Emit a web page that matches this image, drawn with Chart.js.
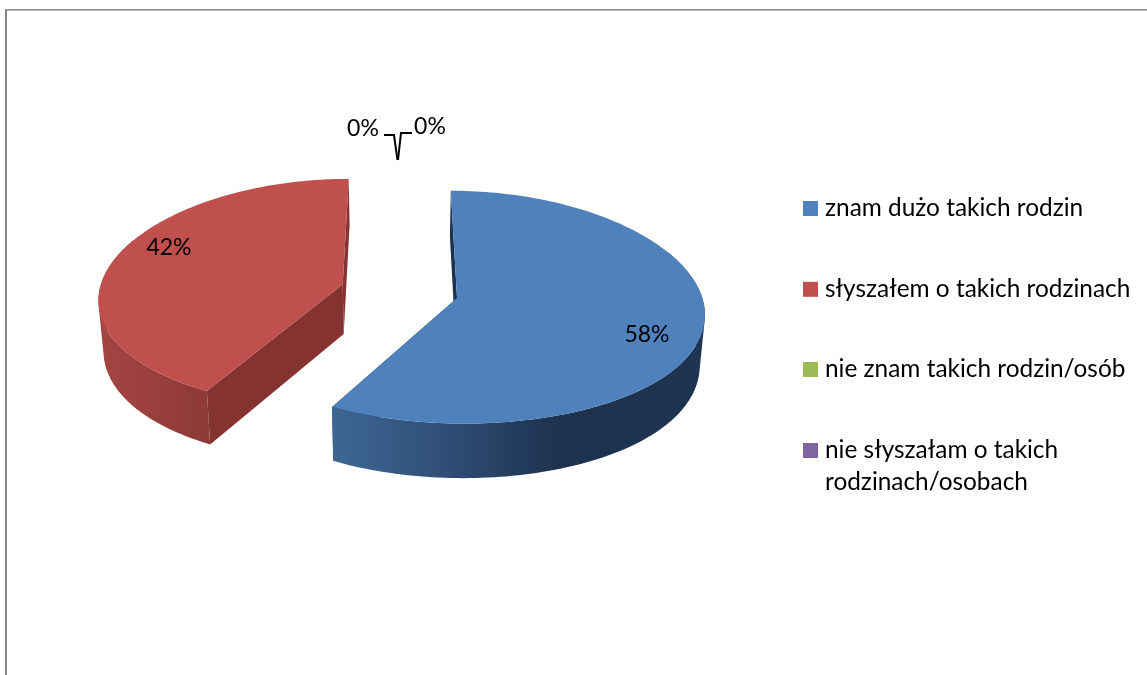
<!DOCTYPE html>
<html>
<head>
<meta charset="utf-8">
<script src="https://cdn.jsdelivr.net/npm/chart.js@4"></script>
<style>
  html, body { margin: 0; padding: 0; background: #fff; overflow: hidden; }
  canvas { display: block; }
</style>
</head>
<body>
<canvas id="pie3d" width="1147" height="675"></canvas>
<script>
const categories = [
    "znam dużo takich rodzin",
    "słyszałem o takich rodzinach",
    "nie znam takich rodzin/osób",
    ["nie słyszałam o takich", "rodzinach/osobach"]
];
const values = [58, 42, 0, 0];
const colors = ["#4f81bd", "#c0504d", "#9bbb59", "#8064a2"];
const explode = [59.5, 58.5, 0, 0];

// wall colours, gradient stops are [x, colour]
const wallColors = ["#1d324e", "#843331", "#9bbb59", "#8064a2"];
const rimStops = [
    [[330, "#3e6795"], [450, "#2e4d74"], [560, "#1d324e"], [703, "#1f3450"]],
    [[97, "#a54542"], [205, "#8e3a37"]],
    [], []
];

// where the percent labels sit, and their leader lines
const labelSpots = [[647, 335], [169, 248], [363, 129], [430, 127]];
const leaders = [
    [[384, 135], [394, 135], [397.5, 160]],
    [[412, 133], [401, 133], [398, 160]]
];

// legend rows, centre y of each box
const legendRows = [208.5, 289.3, 369.5, 450.5];

const FONT = "Lato, sans-serif";
const DEPTH = 50;
const HORIZON = 1460;     // distance from pie centre up to the vanishing line
const TILT = 0.078 / 242; // perspective strength per px of depth
const SQUEEZE = 0.983;    // underside of the pie is a bit narrower

function project(cx, cy, u, v) {
    const w = 1 - v * TILT;
    return { x: cx + u / Math.pow(w, 1.5), y: cy - HORIZON + HORIZON / w, w: w };
}

function lower(cx, p) {
    return { x: cx + (p.x - cx) * SQUEEZE, y: p.y + DEPTH / p.w };
}

function tracePath(ctx, pts) {
    pts.forEach((p, i) => i ? ctx.lineTo(p.x, p.y) : ctx.moveTo(p.x, p.y));
    ctx.closePath();
}

// all quads must turn the same way or they cancel out where they overlap
function sameTurn(pts) {
    let area = 0;
    pts.forEach((p, i) => {
        const q = pts[(i + 1) % pts.length];
        area += p.x * q.y - q.x * p.y;
    });
    return area < 0 ? pts.slice().reverse() : pts;
}

function drawSlice(ctx, arc, i) {
    const cx = arc.x, cy = arc.y, r = arc.outerRadius;
    const mid = (arc.startAngle + arc.endAngle) / 2;
    const ox = arc.options.offset * Math.cos(mid);
    const oy = arc.options.offset * Math.sin(mid);
    const steps = 160;
    const angleAt = s => arc.startAngle + (arc.endAngle - arc.startAngle) * s / steps;
    const rimAt = a => project(cx, cy, ox + r * Math.cos(a), oy + r * Math.sin(a));
    const apex = project(cx, cy, ox, oy);

    const rim = [];
    for (let s = 0; s <= steps; s++) {
        rim.push(rimAt(angleAt(s)));
    }

    // cut walls first
    ctx.fillStyle = wallColors[i];
    [rim[0], rim[steps]].forEach(edge => {
        ctx.beginPath();
        tracePath(ctx, [apex, edge, lower(cx, edge), lower(cx, apex)]);
        ctx.fill();
    });

    // outer wall, one path of small quads so the outline stays clean
    const stops = rimStops[i];
    if (stops.length) {
        const x0 = stops[0][0], x1 = stops[stops.length - 1][0];
        const grad = ctx.createLinearGradient(x0, 0, x1, 0);
        stops.forEach(st => grad.addColorStop((st[0] - x0) / (x1 - x0), st[1]));
        ctx.fillStyle = grad;
        ctx.beginPath();
        for (let s = 0; s < steps; s++) {
            if (Math.sin(angleAt(s)) > -0.4) {
                tracePath(ctx, sameTurn([rim[s], rim[s + 1], lower(cx, rim[s + 1]), lower(cx, rim[s])]));
            }
        }
        ctx.fill();
    }

    // top face
    ctx.fillStyle = colors[i];
    ctx.beginPath();
    tracePath(ctx, [apex].concat(rim));
    ctx.fill();
}

function drawLegend(ctx) {
    ctx.textAlign = "left";
    ctx.textBaseline = "middle";
    ctx.font = "24.4px " + FONT;
    categories.forEach((label, i) => {
        ctx.fillStyle = colors[i];
        ctx.fillRect(803, legendRows[i] - 7.5, 15, 15);
        ctx.fillStyle = "#000";
        [].concat(label).forEach((line, k) => {
            ctx.fillText(line, 825, legendRows[i] + k * 32);
        });
    });
}

const pie3d = {
    id: "pie3d",
    beforeDraw(chart) {
        const ctx = chart.ctx;
        ctx.save();
        ctx.fillStyle = "#fff";
        ctx.fillRect(0, 0, chart.width, chart.height);
        ctx.fillStyle = "#868686";
        ctx.fillRect(5, 9, chart.width - 5, 1.5);
        ctx.fillRect(5, 9, 2, chart.height - 9);
        ctx.restore();
    },
    beforeDatasetsDraw(chart) {
        const ctx = chart.ctx;
        const arcs = chart.getDatasetMeta(0).data;
        ctx.save();
        arcs.forEach((arc, i) => {
            if (values[i] > 0) drawSlice(ctx, arc, i);
        });

        ctx.strokeStyle = "#000";
        ctx.lineWidth = 2;
        leaders.forEach(line => {
            ctx.beginPath();
            line.forEach((p, k) => k ? ctx.lineTo(p[0], p[1]) : ctx.moveTo(p[0], p[1]));
            ctx.stroke();
        });

        const total = values.reduce((a, b) => a + b, 0);
        ctx.fillStyle = "#000";
        ctx.font = "23px " + FONT;
        ctx.textAlign = "center";
        ctx.textBaseline = "middle";
        values.forEach((v, i) => {
            ctx.fillText(Math.round(v / total * 100) + "%", labelSpots[i][0], labelSpots[i][1]);
        });

        drawLegend(ctx);
        ctx.restore();
        return false;
    }
};

new Chart(document.getElementById("pie3d"), {
    type: "pie",
    data: {
        labels: categories,
        datasets: [{
            data: values,
            backgroundColor: colors,
            offset: explode,
            borderWidth: 0
        }]
    },
    options: {
        responsive: false,
        animation: false,
        radius: 243.5,
        layout: { padding: { right: 349, bottom: 93 } },
        plugins: {
            tooltip: { enabled: false },
            legend: { display: false }
        }
    },
    plugins: [pie3d]
});
</script>
</body>
</html>
